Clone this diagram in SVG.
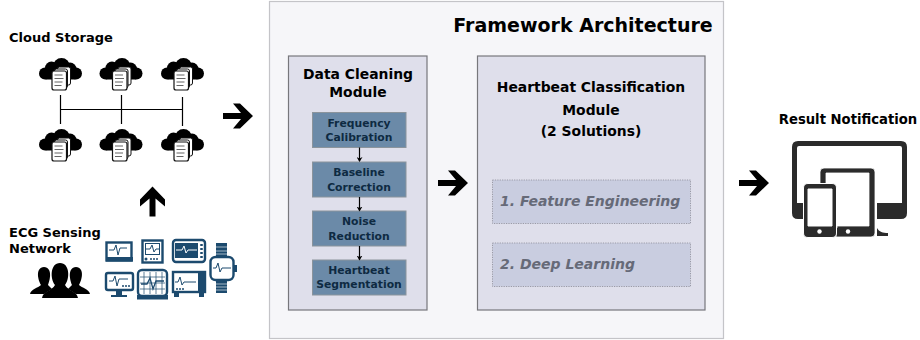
<svg xmlns="http://www.w3.org/2000/svg" width="920" height="340" viewBox="0 0 920 340">
<style>
text{font-family:"DejaVu Sans","Liberation Sans",sans-serif;font-weight:700;fill:#000}
.panel{fill:#f6f6f9;stroke:#c4c4c8;stroke-width:1.2}
.mod{fill:#dfdfeb;stroke:#77777c;stroke-width:1.2}
.step{fill:#6b8aa8;stroke:#8b949c;stroke-width:1}
.steptx{font-size:10.8px;fill:#0e2a42;text-anchor:middle}
.sol{fill:#c9cde0;stroke:#9a9aa6;stroke-width:1;stroke-dasharray:1.2 1.2}
.soltx{font-size:14px;font-style:italic;fill:#666a78}
.h{font-size:13px}
.m{font-size:13.9px}
.c{text-anchor:middle}
.line{stroke:#000;stroke-width:1.2;fill:none}
.mon{fill:#fff;stroke:#1c4a6e;stroke-width:2.4}
.mons{fill:#1c4a6e}
.wave{fill:none;stroke:#1c4a6e;stroke-width:1}
.dev{fill:#2b2b2b;fill-rule:evenodd}
</style>
<defs>
<marker id="tip" markerWidth="6" markerHeight="6" refX="4" refY="3" orient="auto" markerUnits="userSpaceOnUse"><path d="M0 0L5 3L0 6L1.5 3Z" fill="#000"/></marker>
<path id="bigarrow" d="M-15 -3H3L-5 -12.500H2L15 0L2 12.500H-5L3 3H-15Z" fill="#000"/>
<g id="cloud">
<g fill="#000">
<circle cx="-15.500" cy="1.500" r="6"/><circle cx="15.500" cy="1.500" r="6"/>
<circle cx="-9" cy="-4" r="6.500"/><circle cx="1" cy="-5.500" r="8.500"/><circle cx="9.500" cy="-3" r="6.500"/>
<rect x="-15" y="-2" width="30" height="9.500"/>
</g>
<rect x="-3" y="-5" width="13" height="18" rx="2" fill="#fff" stroke="#111" stroke-width="1"/>
<rect x="-6" y="-3" width="13" height="19" rx="2" fill="#fff" stroke="#111" stroke-width="1"/>
<rect x="-8.500" y="-1" width="14.500" height="19" rx="2" fill="#fff" stroke="#111" stroke-width="1.200"/>
<path d="M-6 3H2M-6 6.500H3M-6 10H2M-6 13.500H1" stroke="#666" stroke-width="1.100"/>
</g>
</defs>

<g id="framework">
<rect class="panel" x="269.500" y="1.500" width="454" height="337"/>
<text x="583" y="32" class="c" style="font-size:19px">Framework Architecture</text>
</g>

<g id="cloud-storage">
<text x="9" y="42" class="h">Cloud Storage</text>
<use href="#cloud" x="60.500" y="72"/>
<use href="#cloud" x="121" y="72"/>
<use href="#cloud" x="182.500" y="72"/>
<use href="#cloud" x="60.500" y="143"/>
<use href="#cloud" x="121" y="143"/>
<use href="#cloud" x="182.500" y="143"/>
</g>

<g id="ecg-network">
<text x="9" y="237" class="h">ECG Sensing</text>
<text x="9" y="253" class="h">Network</text>
<g id="people" fill="#000">
<path d="M30 294C31 289 38 288 41 285C38 280 35 268 44 267C53 268 50 280 48 285L52 289L44 294Z"/>
<path d="M90 294C89 289 82 288 79 285C82 280 85 268 76 267C67 268 70 280 72 285L68 289L76 294Z"/>
<path d="M42 298C43 291 52 291 55 285C50 279 50 263 60 263C70 263 70 279 65 285C68 291 77 291 78 298Z"/>
</g>
<g id="monitors">
<rect class="mon" x="106.500" y="242.500" width="25" height="18"/><rect class="mons" x="106" y="257" width="27" height="4.500"/>
<path class="wave" d="M109 250H114L116 245L118 255L120 248H127"/>
<rect class="mon" x="142.500" y="240.500" width="20" height="22"/><rect class="mon" x="145.500" y="243.500" width="14" height="11" style="stroke-width:1"/>
<path class="wave" d="M146 249H150L152 245L154 252L156 249H159"/>
<path d="M150 259H158" stroke="#1c4a6e" stroke-width="1.500" stroke-dasharray="2 1"/><circle cx="146" cy="259" r="1.500" class="mons"/>
<rect class="mon" x="173" y="240" width="32" height="22" rx="3"/><rect class="mons" x="175" y="243" width="23" height="15"/>
<path d="M176 250H182L184 246L186 253L188 250H197" fill="none" stroke="#fff" stroke-width="1"/>
<path d="M201.500 244V258" stroke="#1c4a6e" stroke-width="2.500" stroke-dasharray="2 2"/>
<rect class="mon" x="106" y="273" width="27" height="17" rx="2"/><path class="mons" d="M116 290H122V295H127V297H111V295H116Z"/>
<path class="wave" d="M109 281H113L115 276L117 286L119 279H128"/>
<path d="M122 286H130" stroke="#1c4a6e" stroke-width="1.500" stroke-dasharray="2 1"/>
<rect class="mon" x="138" y="270" width="29" height="26" rx="4"/><rect class="mons" x="137" y="295" width="31" height="4.500"/>
<path d="M144 272V294M150 272V294M156 272V294M162 272V294M140 277H165M140 283H165M140 289H165" stroke="#1c4a6e" stroke-width=".7"/>
<path class="wave" d="M141 284H147L150 278L153 289L156 281H164" style="stroke-width:1.300"/>
<rect class="mon" x="173" y="272" width="32" height="20"/><path class="mons" d="M174 292H179V297H174ZM199 292H204V297H199ZM198 272H205V292H198Z"/>
<path class="wave" d="M175 282H178L180 277L182 285L184 282H196"/>
<path d="M176 289H184" stroke="#1c4a6e" stroke-width="1.500" stroke-dasharray="2 1"/>
<rect class="mons" x="216" y="243" width="11" height="14"/>
<rect class="mons" x="216" y="280" width="11" height="13"/>
<path d="M216 247H227M216 251H227M216 254H227M216 284H227M216 287H227M216 290H227" stroke="#dfe6ec" stroke-width=".7"/>
<rect class="mons" x="234" y="265" width="3" height="7"/>
<rect class="mon" x="210.500" y="257" width="23" height="23" rx="5"/>
<path class="wave" d="M213 268H216L218 263L220 272L222 268H231"/>
</g>
</g>

<g id="data-cleaning">
<rect class="mod" x="288.500" y="56" width="138.500" height="254"/>
<text x="358" y="79" class="c m">Data Cleaning</text>
<text x="358" y="97" class="c m">Module</text>
</g>
<g id="step-frequency"><rect class="step" x="312.500" y="112.500" width="93.500" height="35"/><text class="steptx" x="359" y="127">Frequency</text><text class="steptx" x="359" y="141">Calibration</text></g>
<g id="step-baseline"><rect class="step" x="312.500" y="162" width="93.500" height="35"/><text class="steptx" x="359" y="176">Baseline</text><text class="steptx" x="359" y="191">Correction</text></g>
<g id="step-noise"><rect class="step" x="312.500" y="211" width="93.500" height="35"/><text class="steptx" x="359" y="225">Noise</text><text class="steptx" x="359" y="240">Reduction</text></g>
<g id="step-segmentation"><rect class="step" x="312.500" y="260" width="93.500" height="35"/><text class="steptx" x="359" y="274">Heartbeat</text><text class="steptx" x="359" y="288">Segmentation</text></g>

<g id="classification">
<rect class="mod" x="477.500" y="56" width="227.500" height="254"/>
<text x="591" y="92" class="c m">Heartbeat Classification</text>
<text x="591" y="115" class="c m">Module</text>
<text x="591" y="136" class="c m">(2 Solutions)</text>
</g>
<g id="solution-1"><rect class="sol" x="492.500" y="180" width="198" height="43.500"/><text class="soltx" x="500" y="206">1. Feature Engineering</text></g>
<g id="solution-2"><rect class="sol" x="492.500" y="243" width="198" height="43.500"/><text class="soltx" x="500" y="269">2. Deep Learning</text></g>

<g id="result-notification">
<text x="848" y="124" class="c" style="font-size:13.200px">Result Notification</text>
<g id="devices">
<path class="dev" d="M798 141H901Q907 141 907 147V213Q907 219 901 219H877V203H902V148Q902 146 900 146H799Q797 146 797 148V203H803V219H798Q792 219 792 213V147Q792 141 798 141Z"/>
<path class="dev" d="M824 168H871Q875 168 875 172V233Q875 237 871 237H836V228H837V226H869V173H826V184H820V172Q820 168 824 168Z" stroke="#fff" stroke-width=".8"/>
<path class="dev" d="M808 183.500H832Q836.500 183.500 836.500 188V233Q836.500 237.500 832 237.500H808Q803.500 237.500 803.500 233V188Q803.500 183.500 808 183.500ZM808 189V226H832V189Z" stroke="#fff" stroke-width="1"/>
<circle cx="819.500" cy="231.500" r="2.200" fill="#fff"/>
<circle cx="848" cy="231.500" r="2.200" fill="#fff"/>
<path class="dev" d="M877 228C879 232 883 233 888 233V236H877Z"/>
</g>
</g>

<g id="connectors">
<path class="line" d="M60.500 95V124M121.500 95V124M182.500 97V126M60.500 109.500H182.500"/>
<path class="line" d="M359.500 147.500V161" marker-end="url(#tip)"/>
<path class="line" d="M359.500 197V210.500" marker-end="url(#tip)"/>
<path class="line" d="M359.500 246V259.500" marker-end="url(#tip)"/>
<use href="#bigarrow" x="238" y="116"/>
<use href="#bigarrow" x="453" y="183"/>
<use href="#bigarrow" x="754" y="183"/>
<use href="#bigarrow" transform="translate(152.500 201.500) rotate(-90)"/>
</g>
</svg>
